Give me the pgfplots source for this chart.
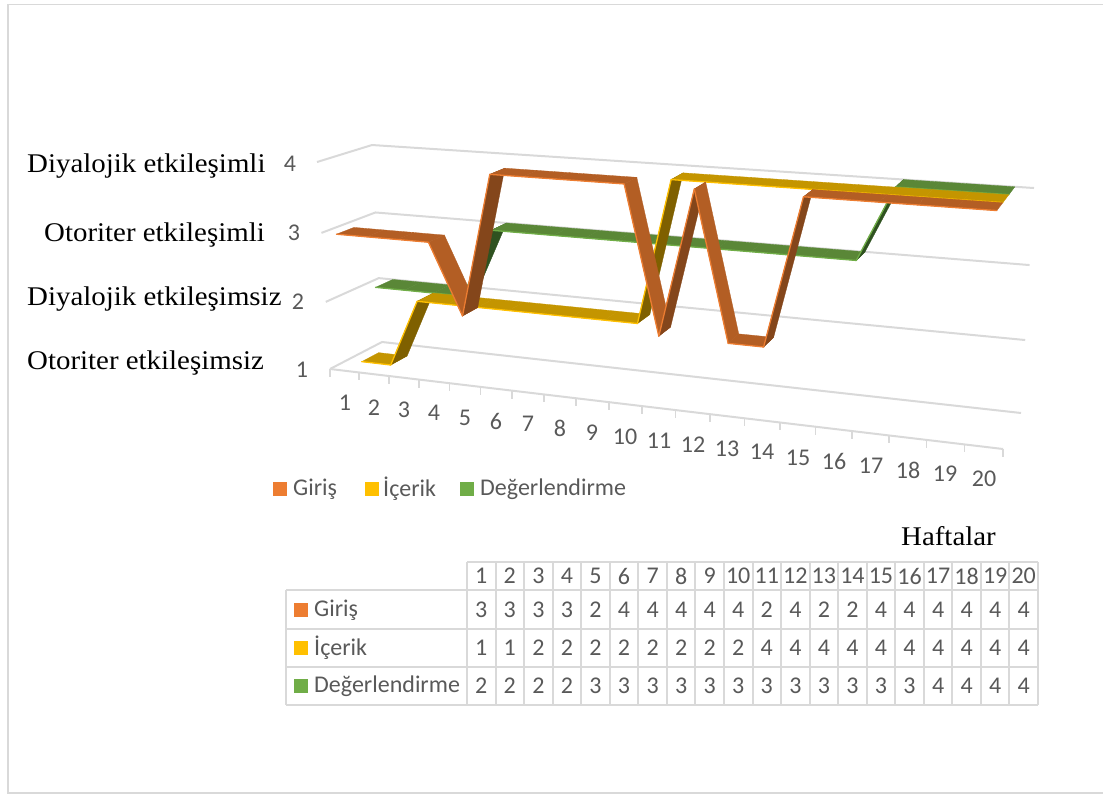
\documentclass[border=0pt]{standalone}
\usepackage{fontspec}
\usepackage{pgfplots}
\usepackage{pgfplotstable}
\pgfplotsset{compat=1.18}
\setmainfont{Carlito}
\newfontfamily\serifl[FakeStretch=1.07]{Liberation Serif}

\definecolor{gridc}{HTML}{D9D9D9}
\definecolor{textc}{HTML}{595959}
\definecolor{orngTop}{HTML}{B35E24}
\definecolor{orngUnder}{HTML}{84461B}
\definecolor{orngEdge}{HTML}{ED7D31}
\definecolor{yellTop}{HTML}{C49500}
\definecolor{yellUnder}{HTML}{7F6000}
\definecolor{yellEdge}{HTML}{FFC000}
\definecolor{grenTop}{HTML}{5A8737}
\definecolor{grenUnder}{HTML}{2F5220}
\definecolor{grenEdge}{HTML}{70AD47}

\tikzset{
  wk/.style={text=textc,font=\fontsize{24}{24}\selectfont,inner sep=0pt,anchor=center},
  ser/.style={text=black,font=\fontsize{27}{27}\serifl,inner sep=0pt,anchor=west},
  leg/.style={text=textc,font=\fontsize{24}{24}\selectfont,inner sep=0pt,anchor=west},
}

% Weekly levels of each lesson part
\pgfplotstableread{
week giris icerik deger
1  3 1 2
2  3 1 2
3  3 2 2
4  3 2 2
5  2 2 3
6  4 2 3
7  4 2 3
8  4 2 3
9  4 2 3
10 4 2 3
11 2 4 3
12 4 4 3
13 2 4 3
14 2 4 3
15 4 4 3
16 4 4 3
17 4 4 4
18 4 4 4
19 4 4 4
20 4 4 4
}\hafta

% Perspective projection: week, depth (0 front .. 1 back), level -> canvas position
\newcommand\Project[4]{%
  \pgfmathsetmacro\pjt{(#2-0.5)/20}%
  \pgfmathsetmacro\pjs{0.8642*\pjt/(0.8642*\pjt+1-\pjt)}%
  \pgfmathsetmacro\pjq{(#4-1)/3}%
  \pgfmathsetmacro\pjl{0.96*\pjq/(0.96*\pjq+1-\pjq)}%
  \pgfmathsetmacro\pjfx{(1-\pjs)*(330-13*\pjl)+\pjs*(1003+14*\pjl)}%
  \pgfmathsetmacro\pjbx{(1-\pjs)*(382-10*\pjl)+\pjs*(1021+13*\pjl)}%
  \pgfmathsetmacro\pjfy{(1-\pjs)*(369-207*\pjl)+\pjs*(449-237*\pjl)}%
  \pgfmathsetmacro\pjby{(1-\pjs)*(342-197*\pjl)+\pjs*(413-225*\pjl)}%
  \pgfmathsetmacro\pjx{(1-#3)*\pjfx+#3*\pjbx}%
  \pgfmathsetmacro\pjy{(1-#3)*\pjfy+#3*\pjby}%
  \expandafter\edef\csname #1\endcsname{(\pjx,\pjy)}%
}

% One ribbon, one quad per pair of consecutive weeks: column, front depth, back depth, colour stem
\newcommand\Ribbon[4]{%
  \pgfplotsforeachungrouped \rw in {0,...,18}{%
    \pgfmathtruncatemacro\rn{\rw+1}%
    \pgfplotstablegetelem{\rw}{#1}\of\hafta \let\va\pgfplotsretval
    \pgfplotstablegetelem{\rn}{#1}\of\hafta \let\vb\pgfplotsretval
    \pgfmathsetmacro\wa{\rw+1}%
    \pgfmathsetmacro\wb{\rw+2}%
    \Project{ptA}{\wa}{#2}{\va}%
    \Project{ptB}{\wb}{#2}{\vb}%
    \Project{ptC}{\wb}{#3}{\vb}%
    \Project{ptD}{\wa}{#3}{\va}%
    \pgfmathparse{\vb>\va ? 1 : 0}%
    \ifnum\pgfmathresult=1 \def\face{#4Under}\else \def\face{#4Top}\fi
    \edef\cmd{\noexpand\addplot[fill=\face,draw=\face,line width=0.3pt]
      coordinates {\ptA \ptB \ptC \ptD \ptA};
      \noexpand\addplot[draw=#4Edge,line width=1.3pt,line cap=round]
      coordinates {\ptA \ptB};}%
    \cmd
  }%
}

% Grid line of one level: along the left wall, then along the back wall
\newcommand\LevelLine[1]{%
  \Project{ptA}{0.5}{0}{#1}%
  \Project{ptB}{0.5}{1}{#1}%
  \Project{ptC}{20.5}{1}{#1}%
  \edef\cmd{\noexpand\addplot[draw=gridc,line width=2pt]
    coordinates {\ptA \ptB \ptC};}%
  \cmd
}

\newcommand\WeekLabel[3]{\node[wk] at (#2,#3) {#1};}

\begin{document}
\begin{tikzpicture}
\useasboundingbox (0,0) rectangle (1103pt,794pt);
\begin{axis}[
  at={(0,0)},anchor=south west,
  x=1pt,y=1pt,y dir=reverse,
  xmin=0,xmax=1103,ymin=0,ymax=794,
  hide axis,clip=false,no markers,
]
% Outer frame
\addplot[draw=gridc,line width=1.5pt] coordinates {(1103,4.5) (8,4.5) (8,793) (1103,793)};

% Walls and floor
\LevelLine{1}
\LevelLine{2}
\LevelLine{3}
\LevelLine{4}
\addplot[draw=gridc,line width=2pt] coordinates {(330,369) (1003,449)};
\pgfplotsforeachungrouped \tk in {0,...,20}{%
  \pgfmathsetmacro\wk{\tk+0.5}%
  \Project{ptA}{\wk}{0}{1}%
  \pgfmathsetmacro\lo{\pjy+8}%
  \edef\cmd{\noexpand\addplot[draw=gridc,line width=1.6pt]
    coordinates {\ptA (\pjx,\lo)};}%
  \cmd
}

% Ribbons, back to front
\Ribbon{deger}{0.67}{1}{gren}
\Ribbon{icerik}{0.335}{0.665}{yell}
\Ribbon{giris}{0}{0.33}{orng}

% Level numbers and their names
\node[wk] at (290,164) {4};
\node[wk] at (294,233) {3};
\node[wk] at (298,302) {2};
\node[wk] at (302,370) {1};
\node[ser] at (27,166) {Diyalojik etkileşimli};
\node[ser] at (44,235) {Otoriter etkileşimli};
\node[ser] at (27,299) {Diyalojik etkileşimsiz};
\node[ser] at (27,363) {Otoriter etkileşimsiz};

% Week numbers along the floor
\WeekLabel{1}{345}{403}
\WeekLabel{2}{374}{408}
\WeekLabel{3}{404}{410}
\WeekLabel{4}{434}{413}
\WeekLabel{5}{465}{418}
\WeekLabel{6}{496}{421}
\WeekLabel{7}{528}{424}
\WeekLabel{8}{560}{428}
\WeekLabel{9}{592}{433}
\WeekLabel{10}{625}{437}
\WeekLabel{11}{659}{441}
\WeekLabel{12}{693}{445}
\WeekLabel{13}{727}{449}
\WeekLabel{14}{762}{452}
\WeekLabel{15}{798}{458}
\WeekLabel{16}{834}{461}
\WeekLabel{17}{871}{466}
\WeekLabel{18}{908}{470}
\WeekLabel{19}{945}{474}
\WeekLabel{20}{984}{479}

% Legend
\fill[orngEdge] (273,482) rectangle (287,496);
\node[leg] at (293,489) {Giriş};
\fill[yellEdge] (365,482) rectangle (379,496);
\node[leg] at (383,489) {İçerik};
\fill[grenEdge] (460,482) rectangle (474,496);
\node[leg] at (480,489) {Değerlendirme};

\node[ser,anchor=east] at (996,536) {Haftalar};

% Data table: rules
\addplot[draw=gridc,line width=2pt] coordinates {(467,562) (1038,562)};
\pgfplotsforeachungrouped \ry in {590,629,667,705}{%
  \edef\cmd{\noexpand\addplot[draw=gridc,line width=2pt] coordinates {(286,\ry) (1038,\ry)};}\cmd
}
\addplot[draw=gridc,line width=2pt] coordinates {(286,590) (286,705)};
\pgfplotsforeachungrouped \cl in {0,...,20}{%
  \pgfmathsetmacro\cx{467+28.55*\cl}%
  \edef\cmd{\noexpand\addplot[draw=gridc,line width=2pt] coordinates {(\cx,562) (\cx,705)};}\cmd
}
% Data table: keys, names
\fill[orngEdge] (294,603) rectangle (308,617);
\node[leg] at (314,610) {Giriş};
\fill[yellEdge] (294,641) rectangle (308,655);
\node[leg] at (314,648) {İçerik};
\fill[grenEdge] (294,679) rectangle (308,693);
\node[leg] at (314,686) {Değerlendirme};
% Data table: values
\pgfplotsforeachungrouped \cl in {0,...,19}{%
  \pgfmathsetmacro\cx{467+28.55*(\cl+0.5)}%
  \pgfmathtruncatemacro\wn{\cl+1}%
  \edef\cmd{\noexpand\node[wk] at (\cx,576) {\wn};}\cmd
  \pgfplotstablegetelem{\cl}{giris}\of\hafta
  \edef\cmd{\noexpand\node[wk] at (\cx,610) {\pgfplotsretval};}\cmd
  \pgfplotstablegetelem{\cl}{icerik}\of\hafta
  \edef\cmd{\noexpand\node[wk] at (\cx,648) {\pgfplotsretval};}\cmd
  \pgfplotstablegetelem{\cl}{deger}\of\hafta
  \edef\cmd{\noexpand\node[wk] at (\cx,686) {\pgfplotsretval};}\cmd
}
\end{axis}
\end{tikzpicture}
\end{document}
